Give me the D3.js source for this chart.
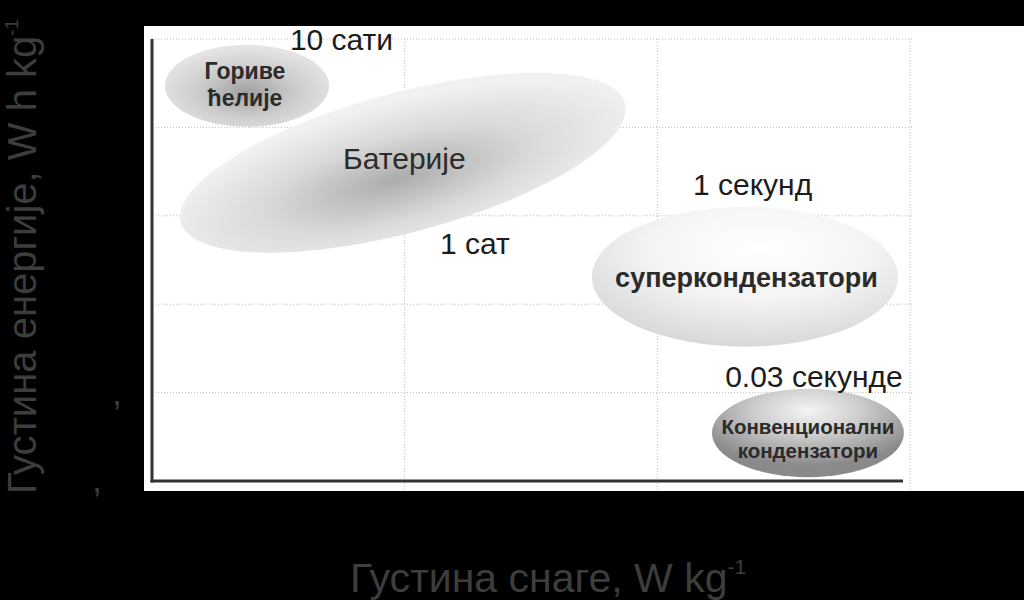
<!DOCTYPE html>
<html>
<head>
<meta charset="utf-8">
<script src="https://cdn.jsdelivr.net/npm/d3@7"></script>
<style>
  html, body { margin: 0; padding: 0; background: #000; }
  svg { display: block; }
  text { font-family: "Liberation Sans", Arial, sans-serif; }
</style>
</head>
<body>
<svg id="chart" width="1024" height="600"></svg>
<script>
// grid positions (power density / energy density, arbitrary log units)
var xGridValues = [1, 2, 3];
var yGridValues = [1, 2, 3, 4, 5];

// regions (ellipses), centre and radii in data units
var regionNames = [
  ["Гориве", "ћелије"],
  ["Батерије"],
  ["суперкондензатори"],
  ["Конвенционални", "кондензатори"]
];
var regionCx = [0.376, 0.993, 2.347, 2.596];
var regionCy = [4.47, 3.6, 2.31, 0.543];
var regionRx = [0.325, 0.91, 0.606, 0.38];
var regionRy = [0.464, 0.79, 0.79, 0.5];
var regionAngle = [0, -15, 0, 0];
var regionLabelX = [0.368, 0.999, 2.353, 2.596];
var regionLabelY = [4.49, 3.654, 2.31, 0.48];

// characteristic times
var timeLabels = ["10 сати", "1 сат", "1 секунд", "0.03 секунде"];
var timeLabelX = [0.75, 1.278, 2.377, 2.62];
var timeLabelY = [4.876, 2.568, 3.235, 1.063];

var svg = d3.select("#chart");

var x = d3.scaleLinear().domain([0, 3]).range([152, 910]);
var y = d3.scaleLinear().domain([0, 5]).range([481, 39]);

// фон
svg.append("rect").attr("width", 1024).attr("height", 600).attr("fill", "#000");
svg.append("rect")
  .attr("x", 144).attr("y", 26)
  .attr("width", 880).attr("height", 465)
  .attr("fill", "#fff");

// мрежа
svg.append("g")
  .selectAll("line")
  .data(yGridValues)
  .enter()
  .append("line")
  .attr("x1", x(0)).attr("x2", x(3) + 3)
  .attr("y1", d => y(d)).attr("y2", d => y(d))
  .attr("stroke", "#bdbdbd")
  .attr("stroke-width", 1)
  .attr("stroke-dasharray", "1,2");

svg.append("g")
  .selectAll("line")
  .data(xGridValues)
  .enter()
  .append("line")
  .attr("x1", d => x(d)).attr("x2", d => x(d))
  .attr("y1", y(5)).attr("y2", 490)
  .attr("stroke", "#bdbdbd")
  .attr("stroke-width", 1)
  .attr("stroke-dasharray", "1,2");

// градијенти
var defs = svg.append("defs");
var gradients = [
  { cx: 0.5, cy: 0.58, r: 0.55, stops: [[0, "#a0a0a0"], [0.55, "#cdcdcd"], [1, "#e4e4e4"]] },
  { cx: 0.48, cy: 0.6, r: 0.55, stops: [[0, "#acacac"], [0.55, "#dadada"], [1, "#f1f1f1"]] },
  { cx: 0.55, cy: 0.3, r: 0.8, stops: [[0, "#ffffff"], [0.45, "#f4f4f4"], [1, "#d0d0d0"]] },
  { cx: 0.5, cy: 0.25, r: 0.62, stops: [[0, "#f4f4f4"], [0.45, "#cdcdcd"], [1, "#8a8a8a"]] }
];
gradients.forEach((g, i) => {
  var rg = defs.append("radialGradient")
    .attr("id", "grad" + i)
    .attr("cx", g.cx).attr("cy", g.cy)
    .attr("fx", g.cx).attr("fy", g.cy)
    .attr("r", g.r);
  g.stops.forEach(s => {
    rg.append("stop").attr("offset", s[0]).attr("stop-color", s[1]);
  });
});

// области
svg.append("g")
  .selectAll("ellipse")
  .data(regionNames)
  .enter()
  .append("ellipse")
  .attr("cx", (d, i) => x(regionCx[i]))
  .attr("cy", (d, i) => y(regionCy[i]))
  .attr("rx", (d, i) => x(regionRx[i]) - x(0))
  .attr("ry", (d, i) => y(0) - y(regionRy[i]))
  .attr("transform", (d, i) =>
    "rotate(" + regionAngle[i] + "," + x(regionCx[i]) + "," + y(regionCy[i]) + ")")
  .attr("fill", (d, i) => "url(#grad" + i + ")");

// натписи области
var labelSize = [23, 30, 27, 20.5];
var labelLead = [27, 30, 30, 24];
var labelWeight = ["bold", "normal", "bold", "bold"];
regionNames.forEach((lines, i) => {
  svg.append("text")
    .attr("text-anchor", "middle")
    .attr("font-size", labelSize[i])
    .attr("font-weight", labelWeight[i])
    .attr("fill", "#2b2b2b")
    .selectAll("tspan")
    .data(lines)
    .enter()
    .append("tspan")
    .attr("x", x(regionLabelX[i]))
    .attr("y", (d, j) => y(regionLabelY[i]) + (j - (lines.length - 1) / 2) * labelLead[i] + 0.36 * labelSize[i])
    .text(d => d);
});

// времена
svg.append("g")
  .selectAll("text")
  .data(timeLabels)
  .enter()
  .append("text")
  .attr("x", (d, i) => x(timeLabelX[i]))
  .attr("y", (d, i) => y(timeLabelY[i]))
  .attr("text-anchor", "middle")
  .attr("font-size", 30)
  .attr("fill", "#1c1c1c")
  .text(d => d);

// осе
svg.append("line")
  .attr("x1", x(0)).attr("x2", x(0))
  .attr("y1", y(5)).attr("y2", y(0) + 1.5)
  .attr("stroke", "#333").attr("stroke-width", 3);
svg.append("line")
  .attr("x1", x(0) - 1.5).attr("x2", x(3) - 7)
  .attr("y1", y(0)).attr("y2", y(0))
  .attr("stroke", "#333").attr("stroke-width", 3);

// наслови оса
var xTitle = svg.append("text")
  .attr("x", 350).attr("y", 592)
  .attr("font-size", 41)
  .attr("fill", "#3d3d3d");
xTitle.append("tspan").text("Густина снаге, W kg");
xTitle.append("tspan").attr("font-size", 21).attr("dy", -18).text("-1");

var yTitle = svg.append("text")
  .attr("transform", "translate(36,494) rotate(-90)")
  .attr("font-size", 40)
  .attr("fill", "#3d3d3d");
yTitle.append("tspan").text("Густина енергије, W h kg");
yTitle.append("tspan").attr("font-size", 19).attr("dy", -18).text("-1");

svg.append("text").attr("x", 112).attr("y", 405).attr("font-size", 36).attr("fill", "#3d3d3d").text(",");
svg.append("text").attr("x", 92).attr("y", 492).attr("font-size", 36).attr("fill", "#3d3d3d").text(",");
</script>
</body>
</html>
